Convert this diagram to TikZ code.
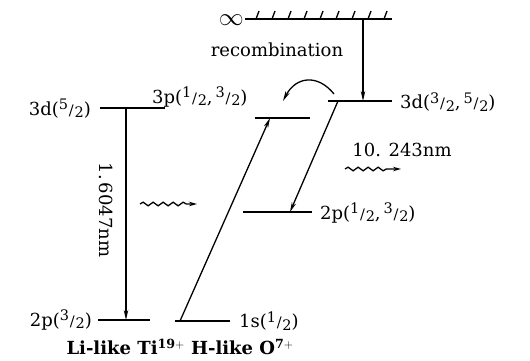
\documentclass[tikz,border=0pt]{standalone}
\usepackage{fontspec}
\setmainfont{DejaVu Serif}
\usetikzlibrary{arrows.meta,decorations.pathmorphing}
\newcommand{\myfr}[2]{{\fontsize{14.5}{14.5}\selectfont\raisebox{0.4em}{#1}\kern0.05em/\kern0.05em\raisebox{-0.15em}{#2}}}
\begin{document}
\begin{tikzpicture}[x=1pt,y=-1pt,
  lvl/.style={line width=2.4pt},
  tr/.style={line width=1.3pt,-{Stealth[length=10pt,width=4.5pt]}},
  wavy/.style={line width=1.3pt,-{Stealth[length=8pt,width=4.5pt]},decorate,decoration={snake,amplitude=1.8pt,segment length=10pt,post length=10pt}},
  lab/.style={font=\fontsize{18}{20}\selectfont, inner sep=0pt}]
\useasboundingbox (0,0) rectangle (530,361);
% levels
\coordinate (infL) at (245,19); \coordinate (infR) at (392,19);
\coordinate (d3rL) at (328,101); \coordinate (d3rR) at (392,101);
\coordinate (p3L) at (255,118); \coordinate (p3R) at (310,118);
\coordinate (d5L) at (100,108); \coordinate (d5R) at (165,108);
\coordinate (p2rL) at (243,212); \coordinate (p2rR) at (312,212);
\coordinate (p2lL) at (98,320); \coordinate (p2lR) at (150,320);
\coordinate (s1L) at (175,321); \coordinate (s1R) at (230,321);
\draw[line width=1.8pt] (infL) -- (infR);
\foreach \x in {256,272,...,384} \draw[line width=1.3pt] (\x,19) -- (\x+3,11);
\foreach \a/\b in {d3rL/d3rR,p3L/p3R,d5L/d5R,p2rL/p2rR,p2lL/p2lR,s1L/s1R} \draw[lvl] (\a) -- (\b);
% transition endpoints
\coordinate (recA) at (363,19); \coordinate (recB) at (363,101);
\coordinate (cvA) at (334,94); \coordinate (cvB) at (283,101);
\coordinate (ltA) at (126,108); \coordinate (ltB) at (126,320);
\coordinate (exA) at (180,321); \coordinate (exB) at (270,118);
\coordinate (dcA) at (338,101); \coordinate (dcB) at (290,212);
\coordinate (w1A) at (345,169); \coordinate (w1B) at (401,169);
\coordinate (w2A) at (140,204); \coordinate (w2B) at (197,204);
\draw[tr] (recA) -- (recB);
\draw[tr] (cvA) .. controls (318,74) and (296,76) .. (cvB);
\draw[tr] (ltA) -- (ltB);
\draw[tr] (exA) -- (exB);
\draw[tr] (dcA) -- (dcB);
\draw[wavy] (w1A) -- (w1B);
\draw[wavy] (w2A) -- (w2B);
% labels
\node[lab,anchor=east] (inf) at (244,20) {\fontsize{26}{26}\selectfont$\infty$};
\node[lab] (rec) at (277,50) {recombination};
\node[lab,anchor=west] (l3p) at (152,97) {3p(\myfr{1}{2},\,\myfr{3}{2})};
\node[lab,anchor=east] (l3d5) at (91,109) {3d(\myfr{5}{2})};
\node[lab,anchor=west] (l3d) at (400,102) {3d(\myfr{3}{2},\,\myfr{5}{2})};
\node[lab] (lw1) at (402,150) {10. 243nm};
\node[lab,anchor=west] (l2p) at (320,213) {2p(\myfr{1}{2},\,\myfr{3}{2})};
\node[lab,anchor=east] (l2p3) at (92,320) {2p(\myfr{3}{2})};
\node[lab,anchor=west] (l1s) at (239,321) {1s(\myfr{1}{2})};
\node[lab,rotate=-90] (lw2) at (106,210) {1.\,6047nm};
\node[lab,font=\fontsize{18}{20}\selectfont\bfseries] (ions) at (180,347) {Li-like Ti$^{\mathbf{19+}}$ H-like O$^{\mathbf{7+}}$};
\end{tikzpicture}
\end{document}
